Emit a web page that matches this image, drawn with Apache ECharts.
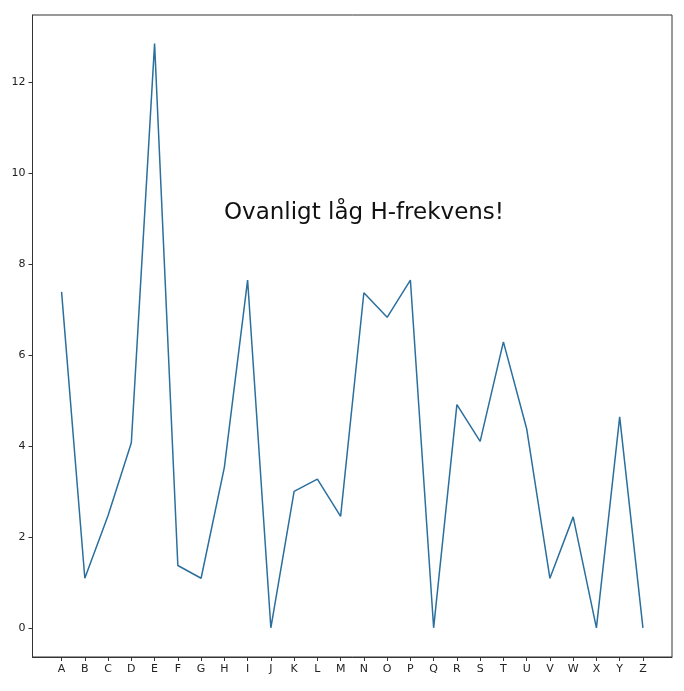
<!DOCTYPE html>
<html>
<head>
<meta charset="utf-8">
<script src="https://cdn.jsdelivr.net/npm/echarts@6/dist/echarts.min.js"></script>
<style>
  html, body { margin: 0; padding: 0; background: #fff; }
  #chart { width: 684px; height: 691px; }
</style>
</head>
<body>
<div id="chart"></div>
<script>
const letters = ['A','B','C','D','E','F','G','H','I','J','K','L','M','N','O','P','Q','R','S','T','U','V','W','X','Y','Z'];
const frequencies = [7.39, 1.09, 2.47, 4.07, 12.85, 1.37, 1.09, 3.53, 7.65, 0, 3.0, 3.27, 2.45, 7.37, 6.83, 7.65, 0, 4.91, 4.1, 6.29, 4.38, 1.09, 2.44, 0, 4.64, 0];
const yTicks = [0, 2, 4, 6, 8, 10, 12];
const annotation = 'Ovanligt låg H-frekvens!';

(function() {
  const chartDom = document.getElementById('chart');
  const chart = echarts.init(chartDom);

  const xTicks = letters.map((_, i) => i);
  const points = frequencies.map((v, i) => [i, v]);

  const axisLine = { show: true, onZero: false, lineStyle: { color: '#333', width: 1 } };
  const axisTick = { show: true, length: 4, lineStyle: { color: '#333', width: 1 } };
  const labelStyle = { color: '#222', fontFamily: 'DejaVu Sans', fontSize: 11 };

  const option = {
    backgroundColor: '#fff',
    animation: false,
    grid: {
      left: 32.5,
      right: 12,
      top: 15,
      bottom: 34,
      show: true,
      borderColor: '#333',
      borderWidth: 1,
      backgroundColor: 'transparent'
    },
    xAxis: {
      type: 'value',
      min: -1.25,
      max: 26.25,
      axisLine: axisLine,
      axisTick: Object.assign({ customValues: xTicks }, axisTick),
      axisLabel: Object.assign({
        customValues: xTicks,
        margin: 7,
        formatter: v => letters[Math.round(v)] || ''
      }, labelStyle),
      splitLine: { show: false }
    },
    yAxis: {
      type: 'value',
      min: -0.642,
      max: 13.48,
      axisLine: axisLine,
      axisTick: Object.assign({ customValues: yTicks }, axisTick),
      axisLabel: Object.assign({ customValues: yTicks, margin: 7 }, labelStyle),
      splitLine: { show: false }
    },
    series: [{
      type: 'line',
      data: points,
      symbol: 'none',
      lineStyle: { color: '#2a6f9e', width: 1.5 }
    }],
    graphic: [{
      type: 'text',
      x: 364,
      y: 213,
      style: {
        text: annotation,
        fontFamily: 'DejaVu Sans',
        fontSize: 23,
        fill: '#111',
        textAlign: 'center',
        textVerticalAlign: 'middle'
      }
    }]
  };

  chart.setOption(option);
})();
</script>
</body>
</html>
